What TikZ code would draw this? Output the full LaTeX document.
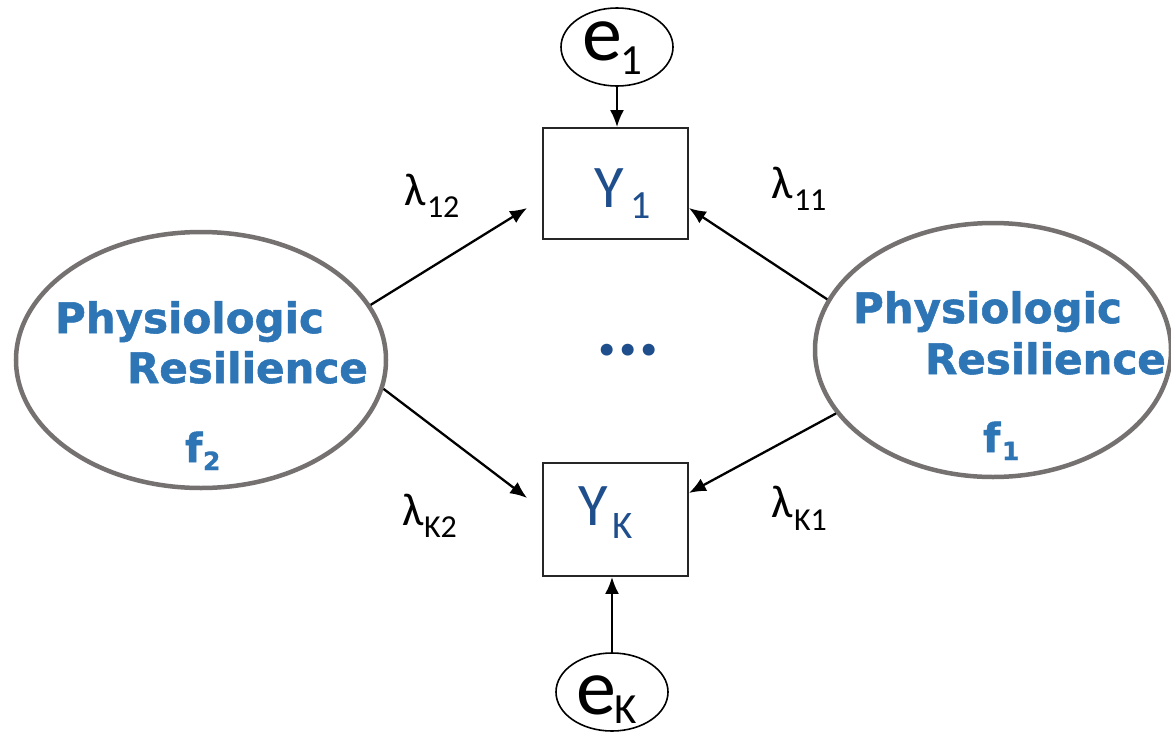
\documentclass[tikz,border=0pt]{standalone}
\usepackage{fontspec}
\usetikzlibrary{arrows.meta,shapes.geometric}
\newfontfamily\dvs{DejaVu Sans}[BoldFeatures={FakeBold=1.3}]
\newfontfamily\carl{Carlito}
\definecolor{resblue}{RGB}{46,117,182}
\definecolor{ydark}{RGB}{31,78,140}
\definecolor{ringgray}{RGB}{118,113,113}
\newcommand{\fs}[1]{\fontsize{#1}{#1}\selectfont}
\tikzset{
  x=1pt, y=-1pt,
  bigell/.style={draw=ringgray, line width=4.5pt, ellipse, inner sep=0pt},
  errell/.style={draw=black, line width=1.6pt, ellipse, inner sep=0pt, minimum width=112pt, minimum height=78pt},
  obsbox/.style={draw=black!85, line width=1.8pt, rectangle, inner sep=0pt, minimum width=145pt},
  txt/.style={anchor=base west, inner sep=0pt, outer sep=0pt},
  restxt/.style={txt, text=resblue, font=\dvs\bfseries\fs{42}},
  restsub/.style={txt, text=resblue, font=\dvs\bfseries\fs{25}},
  lam/.style={txt, font=\carl\fs{46}},
  lamsub/.style={txt, font=\carl\fs{32}},
  conn/.style={draw=black, line width=2.3pt, -{Latex[length=17pt,width=14pt]}},
}
\begin{document}
\begin{tikzpicture}
\useasboundingbox (0,0) rectangle (1171,734);
\fill[white] (0,0) rectangle (1171,734);

% latent factors
\node[bigell, minimum width=370pt, minimum height=256pt] (L) at (201,360) {};
\node[bigell, minimum width=356pt, minimum height=254pt] (R) at (993,350) {};

% observed boxes
\node[obsbox, minimum height=111pt] (Y1) at (615.5,183.5) {};
\node[obsbox, minimum height=113pt] (YK) at (615.5,519.5) {};

% error terms
\node[errell] (e1) at (617,47) {};
\node[errell] (eK) at (612,692) {};

% texts in latent ellipses
\node[restxt] (Lt1) at (55,333) {Physiologic};
\node[restxt] (Lt2) at (127,383) {Resilience};
\node[restxt, font=\dvs\bfseries\fs{40}] (Lf) at (185,462) {f};
\node[restsub] (Lfs) at (203,470) {2};
\node[restxt] (Rt1) at (853,323) {Physiologic};
\node[restxt] (Rt2) at (925,374) {Resilience};
\node[restxt, font=\dvs\bfseries\fs{40}] (Rf) at (983,452) {f};
\node[restsub] (Rfs) at (1002,460) {1};

% Y texts
\node[txt, text=ydark, font=\carl\fs{60.5}] (Y1t) at (594,207) {Y};
\node[txt, text=ydark, font=\carl\fs{40}] (Y1s) at (630,218) {1};
\node[txt, text=ydark, font=\carl\fs{60.5}] (YKt) at (578,525) {Y};
\node[txt, text=ydark, font=\carl\fs{39}] (YKs) at (612,538) {K};

% e texts
\node[txt, font=\carl\fs{80}] (e1t) at (582,60) {e};
\node[txt, font=\carl\fs{43}] (e1s) at (620,74) {1};
\node[txt, font=\carl\fs{80}] (eKt) at (576,714) {e};
\node[txt, font=\carl\fs{43}] (eKs) at (614,723) {K};

% dots
\node[txt, text=ydark, font=\carl\bfseries\fs{80}] (dots) at (596,355) {...};

% lambda labels
\node[lam] (l12) at (404,205) {λ};
\node[lamsub] (l12s) at (427,217) {12};
\node[lam] (l11) at (771,198) {λ};
\node[lamsub] (l11s) at (794,210) {11};
\node[lam] (lK2) at (402,525) {λ};
\node[lamsub] (lK2s) at (424,537) {K2};
\node[lam] (lK1) at (771,517) {λ};
\node[lamsub] (lK1s) at (794,530) {K1};

% connectors
\draw[conn] (e1.south) -- (e1.south |- Y1.north);
\draw[conn] (eK.north) -- (eK.north |- YK.south);
\draw[conn] (L.18.2) -- ([shift={(-15,24.5)}]Y1.west);
\draw[conn] (L.-9.5) -- ([shift={(-15,-21.5)}]YK.west);
\draw[conn] (R.163.8) -- ([shift={(0,24.5)}]Y1.east);
\draw[conn] (R.202.2) -- ([shift={(0,-26.5)}]YK.east);
\end{tikzpicture}
\end{document}
